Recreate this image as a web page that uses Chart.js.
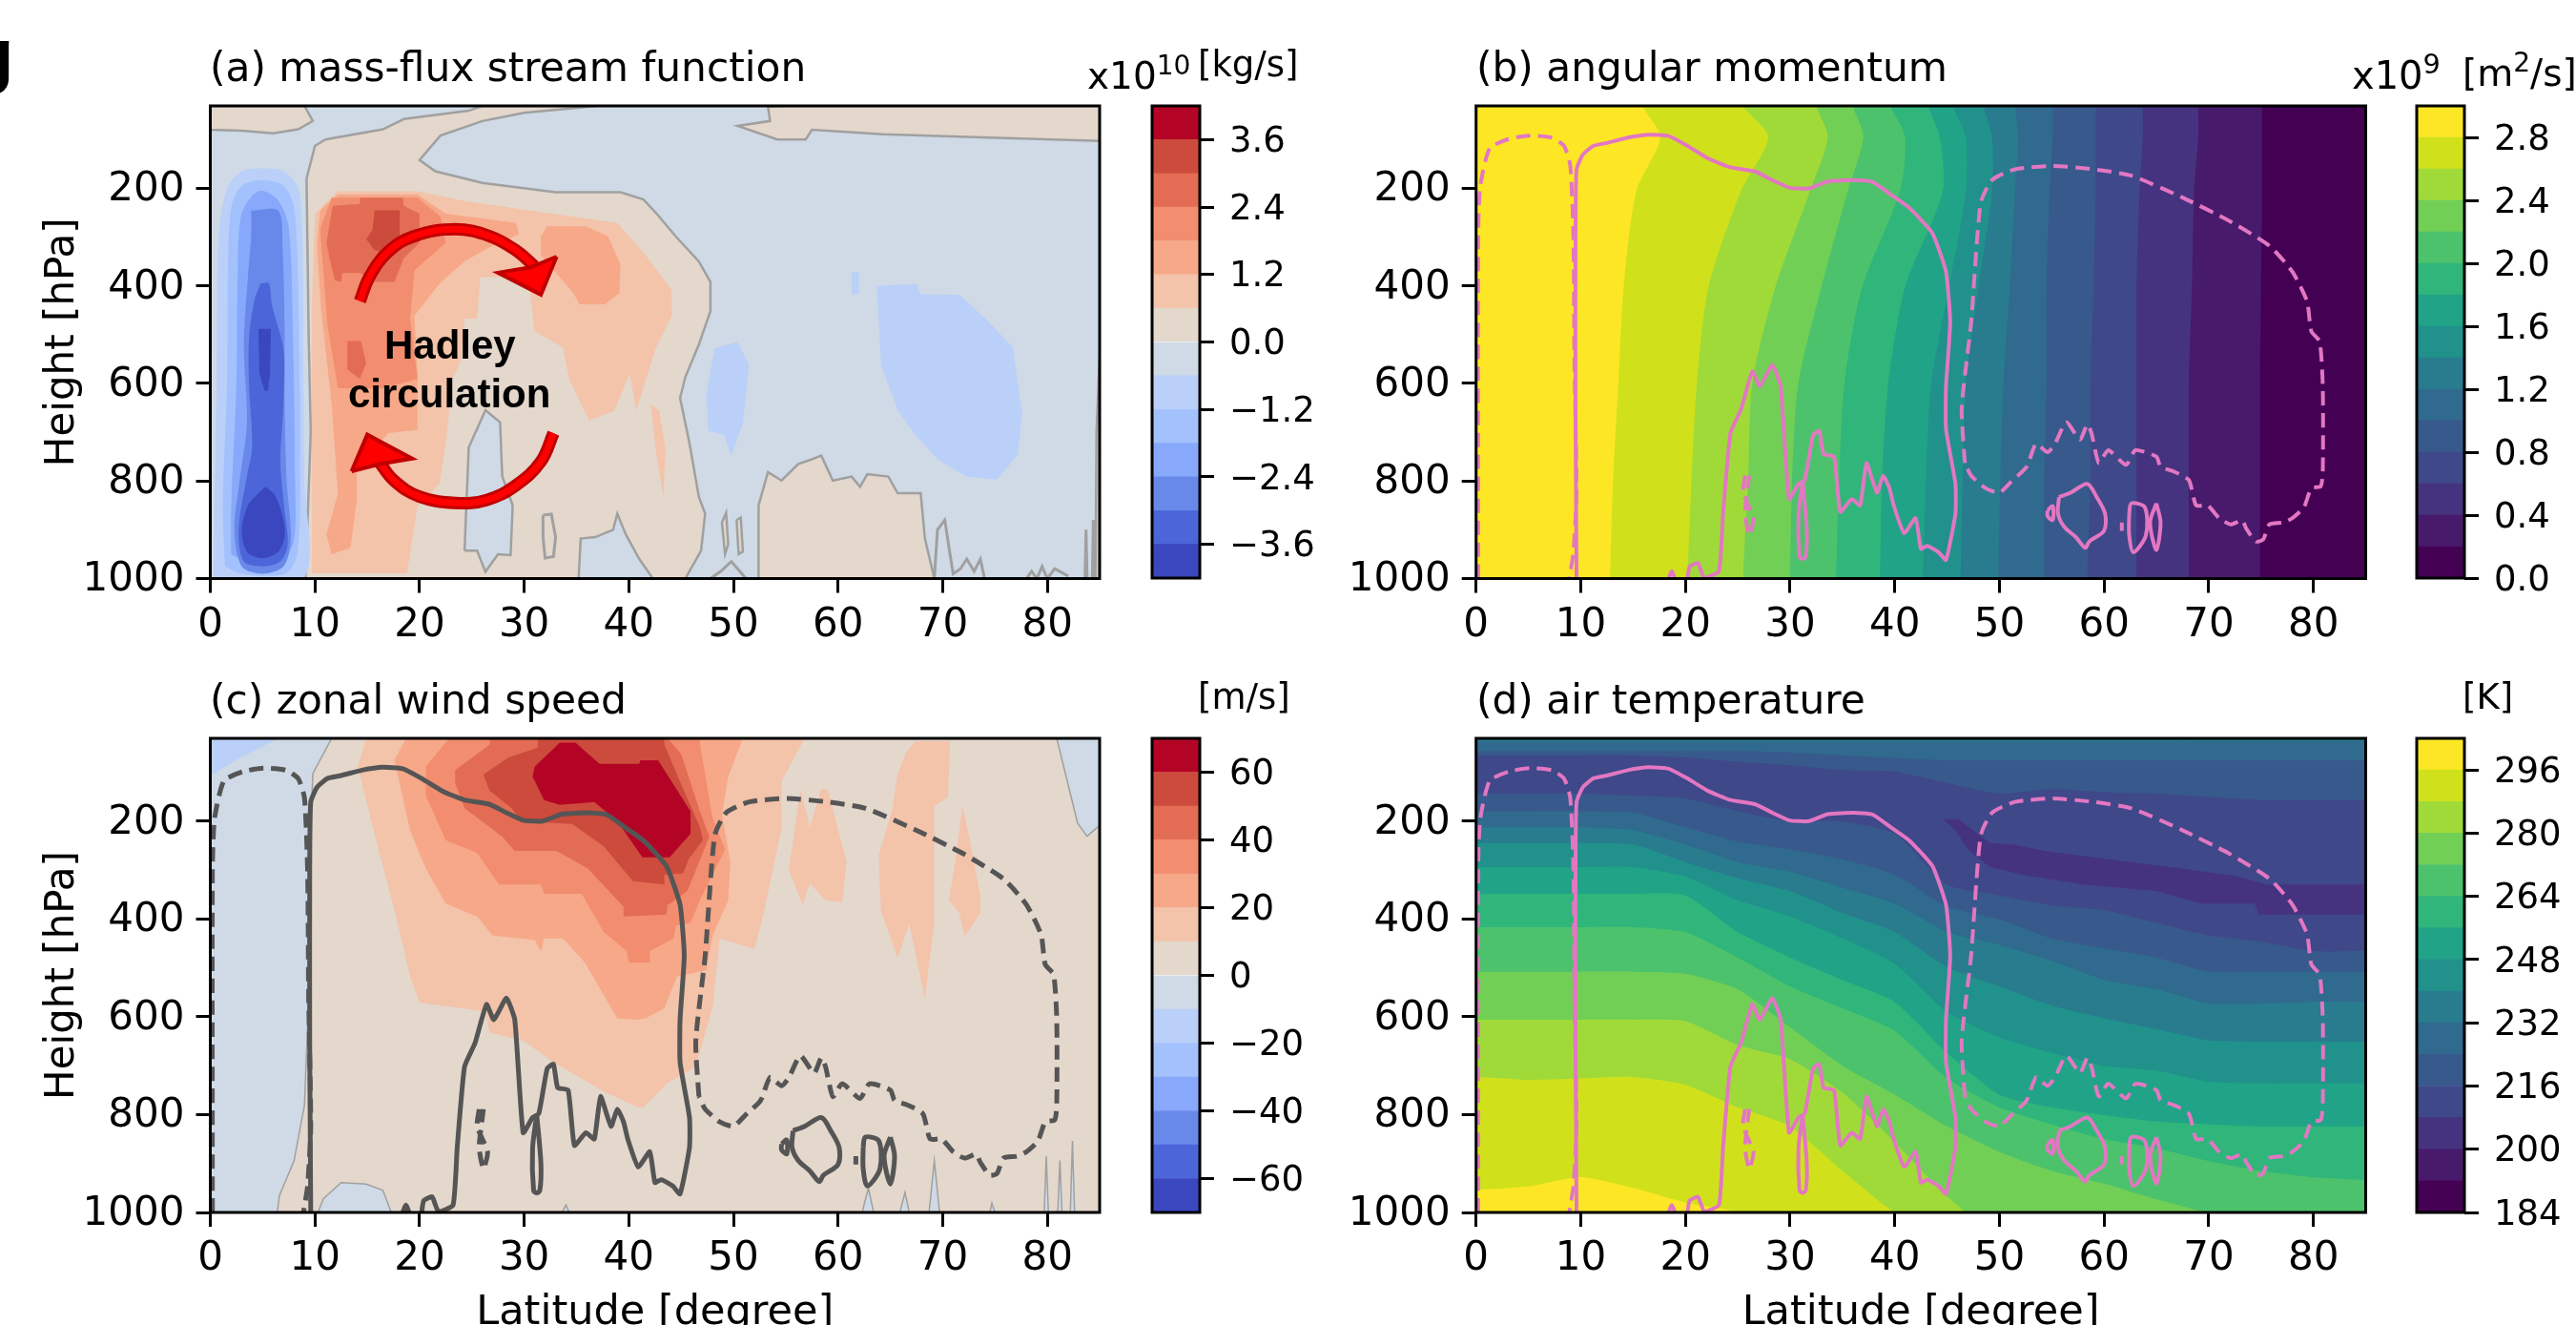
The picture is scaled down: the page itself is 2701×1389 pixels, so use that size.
<!DOCTYPE html>
<html>
<head>
<meta charset="utf-8">
<title>Hadley circulation</title>
<script src="https://cdn.jsdelivr.net/npm/chart.js@4/dist/chart.umd.min.js"></script>
<style>
    html, body { margin: 0; background: #fff; width: 2701px; height: 1389px; overflow: hidden; }
    canvas { position: absolute; }
    .lbl { position: absolute; font-family: "DejaVu Sans"; color: #000; line-height: 1; white-space: pre; z-index: 5; }
    .lbl sup { font-size: 0.72em; line-height: 0; vertical-align: 0.55em; }
    .bold { font-family: "Liberation Sans"; font-weight: bold; }
</style>
</head>
<body>
<script>
// axes
const latTicks = [0, 10, 20, 30, 40, 50, 60, 70, 80];
const hpaTicks = [200, 400, 600, 800, 1000];
const latMax = 85;
const hpaTop = 31;
const hpaBottom = 1000;

// colour levels, low to high
const coolwarm = ['#3b47bf', '#4c66d9', '#6889ea', '#88a8fb', '#a3c1fd', '#bad0f8', '#cfdae6',
                  '#e4d7cc', '#f3c3aa', '#f6a888', '#f28d6f', '#e36c55', '#cc4b3c', '#b40426'];
const viridis = ['#440154', '#481a6c', '#46337f', '#3f4889', '#38598c', '#306a8e', '#287c8e', '#21918c',
                 '#20a386', '#30b57b', '#4cc26c', '#72cf56', '#a0da39', '#d0e11c', '#fde725'];

// colorbar levels
const levelsA = [-4.2, -3.6, -3.0, -2.4, -1.8, -1.2, -0.6, 0, 0.6, 1.2, 1.8, 2.4, 3.0, 3.6, 4.2];
const levelsB = [0, 0.2, 0.4, 0.6, 0.8, 1.0, 1.2, 1.4, 1.6, 1.8, 2.0, 2.2, 2.4, 2.6, 2.8, 3.0];
const levelsC = [-70, -60, -50, -40, -30, -20, -10, 0, 10, 20, 30, 40, 50, 60, 70];
const levelsD = [184, 192, 200, 208, 216, 224, 232, 240, 248, 256, 264, 272, 280, 288, 296, 304];
const cbTicksA = [-3.6, -2.4, -1.2, 0, 1.2, 2.4, 3.6];
const cbTicksB = [0, 0.4, 0.8, 1.2, 1.6, 2.0, 2.4, 2.8];
const cbTicksC = [-60, -40, -20, 0, 20, 40, 60];
const cbTicksD = [184, 200, 216, 232, 248, 264, 280, 296];

// (a) mass-flux stream function, outlines as [latitude, hPa]
const aPosTopLeft = [[0,31],[9,31],[9.8,62],[8.4,79],[6,87],[3,82],[0,80]];
const aPosMain = [[9.1,1000],[9.6,700],[9.4,500],[9.2,180],[10,113],[11,100],[16.5,79],[18.5,58],[24.7,41],[26,31],[37,31],
    [30,45],[26,62],[22,92],[20,142],[21.5,165],[26,189],[33,208],[39.2,208],[41.4,223],[42.7,253],[44.5,299],[46.7,350],
    [47.8,392],[47.8,452],[46.7,520],[45.4,587],[44.9,630],[45.8,723],[46.7,833],[47.3,867],[46.9,943],[45.4,1000]];
const aPosBottom = [[52.4,1000],[52.4,850],[53.3,782],[54.6,799],[56.2,765],[57.3,757],[58.4,748],[59.5,799],[61.3,791],
    [62.1,812],[62.8,786],[64.8,791],[65.7,825],[67.9,825],[68.3,918],[69.2,1000]];
const aPosTopRight = [[55,31],[53.3,33],[53.5,62],[50.4,72],[54.2,100],[56.9,100],[57.5,80],[64.3,89],[74.5,96],[85,103],[85,31]];
const aPosEdge = [[84.6,1000],[84.7,700],[85,545],[85,1000]];
const aPosBlob1 = [[48.9,885],[49.3,865],[49.5,930],[49.2,950]];
const aPosBlob2 = [[50.3,880],[50.7,875],[50.9,945],[50.5,950]];
const aNegCentre = [[24.3,943],[24.7,731],[26.3,655],[27.7,680],[27.9,790],[28.9,850],[28.7,952],[27.5,950],[26.3,986],[25.5,943]];
const aNegBottom = [[35.2,1000],[35.4,918],[36.8,915],[38.5,900],[38.9,867],[39.7,909],[41,960],[42.3,1000]];
const aGrayBits = [
    [[31.8,870],[32.6,868],[33,915],[32.8,955],[32,958],[31.8,915],[31.8,870]],
    [[47.8,1000],[48.8,985],[49.8,965],[50.6,985],[51.2,1000]],
    [[69.2,1000],[69.5,900],[70.2,880],[70.7,950],[71,990],[71.7,980],[72.3,960],[73,985],[73.6,960],[74,1000]],
    [[78,1000],[78.5,985],[79,1000],[79.5,975],[80,1000],[80.7,980],[82,995]],
    [[83.6,1000],[83.7,900],[83.8,1000]],
    [[84.3,1000],[84.4,880],[84.5,1000]]
];
const aBand8 = [[9.7,989],[9.7,448],[10,252],[12.2,206],[19.8,206],[24.3,226],[30.4,245],[38.9,271],[41.6,337],[44.1,408],
    [44.1,461],[42.6,526],[40.7,656],[40.1,578],[38.6,656],[36.2,676],[34.3,591],[33.7,526],[31,493],[30.4,382],[25.8,382],
    [25.5,467],[24.3,467],[24,552],[23.1,591],[22.6,708],[21.9,806],[19.8,852],[18.8,989]];
const aBand8Spike = [[42.1,643],[42.9,656],[43.5,734],[43.3,832],[42.6,741]];
const aBand9 = [[10.2,317],[10.5,245],[12.2,213],[19.8,213],[22.5,252],[29.2,271],[29.5,294],[26.4,324],[24.3,350],[21.9,395],
    [19.5,461],[19.8,578],[19.8,695],[17,702],[14,773],[14,839],[13.4,937],[11.6,950],[11.1,910],[12.2,826],[11.6,643],[10.6,448]];
const aBand9Right = [[31.6,298],[32.2,278],[35.9,278],[38,298],[39.2,356],[39.1,415],[37.7,438],[35.3,438],[34.7,415],[33.4,382],[31.6,337]];
const aBand10 = [[10.5,284],[11.6,219],[19.8,219],[22,258],[22.5,311],[19.5,369],[19.1,467],[19.8,591],[16.4,610],[12.2,610],[11.2,480]];
const aBand11 = [[11.1,311],[11.7,236],[14.3,232],[14.3,219],[18.4,219],[18.5,236],[20,252],[20,311],[18.5,343],[17.6,392],
    [15.8,392],[14.3,373],[12.6,373],[12.5,392],[11.9,389],[11.4,343]];
const aBand11Low = [[13.1,513],[14.4,513],[14.9,558],[14.3,591],[13.1,571]];
const aBand12 = [[15.7,245],[18.1,245],[18.1,311],[16.4,330],[15.7,327],[14.9,304],[15.5,285]];
const aBand5 = [[0.3,1000],[0.6,600],[0.8,300],[1.6,200],[3,165],[5,159],[7,165],[8.4,200],[8.8,300],[8.9,600],[9,800],[8.9,1000]];
const aBand4 = [[1.4,975],[1.2,850],[1.6,600],[1.7,350],[2,240],[3,195],[5,183],[7,195],[8,240],[8.4,400],[8.6,800],[8.3,950],[7.2,990],[3,990]];
const aBand3 = [[2,950],[2,850],[2.5,600],[2.6,400],[2.9,260],[4,215],[5,205],[6.5,225],[7.5,280],[7.9,500],[8.1,800],[8,920],[6.8,965],[3.5,965]];
const aBand2 = [[3.9,246],[6.5,246],[6.9,320],[7.1,480],[7.1,640],[7.3,800],[7.7,920],[7,975],[5,990],[3,975],[2.3,900],[2.8,800],[3.5,680],[3.2,520],[3.6,380],[3.9,300]];
const aBand1 = [[4.8,395],[5.6,395],[5.9,440],[7,530],[7,640],[6.7,760],[7.1,860],[7.4,930],[6.7,965],[5,975],[3.2,965],[2.7,900],[3.5,790],[4,730],[3.7,600],[3.7,510],[4.2,430]];
const aBand0 = [[5.3,812],[6.2,830],[7,880],[7.1,915],[6.5,945],[5,958],[3.5,945],[3,900],[3.6,850],[4.6,825]];
const aBand0Mid = [[4.6,488],[5.8,488],[5.7,580],[5.5,615],[5.2,615],[4.7,580]];
const aLensRight = [[63.7,400],[67.5,396],[67.9,417],[71.6,418],[74.1,467],[76.7,526],[77.6,662],[77.2,746],[75.2,797],[72.3,791],
    [69.6,757],[67.4,706],[65.7,655],[64.1,562]];
const aLensSmall = [[61.3,372],[62,372],[62,417],[61.3,417]];
const aLensMid = [[48.2,528],[50.4,515],[51.5,562],[50.9,681],[49.8,748],[49.1,706],[47.6,697],[47.4,621]];
// Hadley cell arrows
const arrowTop = [[14.3,431],[15.2,382],[17,330],[19.5,298],[23.4,284],[26.7,298],[29.2,327],[31,360]];
const arrowTopHead = [[33.1,340],[31.6,418],[27.5,373],[30.6,362]];
const arrowLow = [[32.8,702],[31.6,760],[29.2,809],[26.4,839],[23.4,845],[20,832],[17.6,800],[16.1,760]];
const arrowLowHead = [[13.5,780],[15,705],[19.3,754],[16.3,765]];

// (b) angular momentum, latitude of each level line at bLevels hPa
const bLevels = [31, 95, 206, 402, 598, 793, 1000];
const bEdge28 = [15.9, 17.6, 15.3, 14.1, 13.6, 13.1, 12.8];
const bEdge26 = [25.5, 27.9, 25.3, 22.2, 21.1, 20.6, 20.2];
const bEdge24 = [32.5, 33.6, 31.9, 28.6, 26.4, 26, 25.5];
const bEdge22 = [36, 37, 35.5, 33, 30.8, 30.2, 30];
const bEdge20 = [39.6, 41, 40.5, 36.9, 35.2, 34.7, 34.4];
const bEdge18 = [43.2, 44.3, 44.6, 41, 39.4, 38.8, 38.6];
const bEdge16 = [45.6, 46.8, 46.8, 45.2, 43.5, 43, 42.7];
const bEdge14 = [48.5, 49.3, 49.3, 48, 46.8, 46.5, 46.3];
const bEdge12 = [51.5, 51.8, 51.5, 51, 50.4, 50.1, 49.9];
const bEdge10 = [55.1, 55.1, 54.8, 54.5, 54.5, 54.3, 54.3];
const bEdge08 = [59.2, 59.2, 59.2, 59, 58.7, 58.7, 58.4];
const bEdge06 = [63.7, 63.7, 63.4, 63.1, 63.1, 63.1, 63.1];
const bEdge04 = [69, 69, 68.6, 68.4, 68.1, 68.1, 68.1];
const bEdge02 = [75.1, 75.1, 75.1, 75, 74.9, 74.9, 74.9];

// (c) zonal wind speed
const cNegLeft = [[11.6,31],[9.8,103],[9.6,217],[9.4,565],[9,781],[8,895],[6.6,966],[6.4,1000],[0,1000],[0,31]];
const cNegCorner = [[0,31],[6.5,31],[2.5,75],[0,108]];
const cNegHump = [[10.3,1000],[10.8,972],[12.5,939],[14.9,942],[16.5,955],[17.3,1000]];
const cNegRight = [[80.9,31],[82.2,144],[82.9,205],[83.8,231],[85,209],[85,31]];
const cNegSpikes = [
    [[33.6,1000],[34,985],[34.3,1000]], [[62.3,1000],[62.9,950],[63.4,1000]], [[65.9,1000],[66.4,959],[66.8,1000]],
    [[68.7,1000],[69.2,894],[69.7,1000]], [[74.5,1000],[74.7,981],[75,1000]], [[79.7,1000],[79.9,885],[80.1,1000]],
    [[81,1000],[81.2,894],[81.4,1000]], [[82.2,1000],[82.4,854],[82.6,1000]]
];
const cBand8 = [[14.9,31],[14.1,89],[16,252],[17.6,382],[19.1,518],[20,571],[26.3,589],[26.7,632],[30,650],[32.8,693],[37.7,754],
    [40.9,785],[41.4,785],[43.6,737],[46.4,702],[48,580],[48.7,440],[52,462],[52.9,388],[54.6,214],[54.6,118],[56.8,31]];
const cBand8A = [[56.4,135],[57.3,214],[58.4,135],[59,135],[60.8,283],[60.4,366],[58.8,362],[57.3,327],[56.6,371],[55.3,300]];
const cBand8B = [[66.5,60],[67.4,37],[70.7,37],[70.5,152],[69.2,169],[69.2,405],[68.3,562],[66.8,410],[65.7,480],[64.1,384],[63.9,270],[65.2,174],[65.7,104]];
const cBand8C = [[71.9,169],[72.5,231],[73.6,353],[73.6,388],[72.1,436],[71.6,388],[70.6,362],[71.2,283]];
const cBand9 = [[18.7,31],[17.6,76],[19.1,219],[20.6,297],[22.5,369],[25.5,395],[27,434],[31,443],[31.6,466],[31.9,440],[33.7,440],
    [35.8,489],[38.9,603],[40.7,606],[41.6,603],[43.4,583],[44.6,518],[47.4,505],[48,434],[49.5,362],[49.7,284],[48.9,187],[49.5,109],[50.9,31]];
const cBand10 = [[20.6,89],[20.6,148],[22.5,239],[25.5,265],[27.6,330],[31.6,330],[31.9,349],[35.5,349],[37.6,427],[39.8,466],[40,489],
    [42,489],[42,466],[44.3,440],[44.5,414],[45.9,408],[46.8,362],[49.2,258],[48,193],[46.8,44],[46.8,31],[22.8,31]];
const cBand11 = [[23.4,96],[23.4,122],[24.3,174],[27.9,232],[29.1,261],[33.1,261],[36.1,297],[39.5,375],[39.5,395],[43.6,391],[43.7,372],
    [45.6,343],[47.7,232],[46.8,180],[45,63],[43.7,31],[26.7,31],[26.7,44]];
const cBand12 = [[26.1,105],[26.7,138],[28.8,174],[29.7,200],[34.6,206],[37.6,252],[40.4,323],[43.4,330],[43.4,310],[45.2,307],[45.7,278],
    [47.1,239],[46.8,213],[45.2,135],[43.4,44],[43.4,31],[31.3,31],[31.3,50],[28.5,70]];
const cBand13 = [[30.8,109],[31.9,157],[33.4,167],[36.7,161],[38.9,200],[41.3,274],[43.9,274],[45.9,226],[45.9,180],[42.8,76],[41.1,76],
    [41,83],[37.2,83],[34.9,40],[33.4,40],[31,89]];

// (d) air temperature, hPa of each level line at dLats
const dLats = [0, 5, 10, 15, 20, 25, 30, 35, 40, 45, 50, 55, 60, 65, 70, 75, 80, 85];
const dLine6to5 = [38, 38, 38, 38, 38, 38, 38, 38, 38, 38, 38, 38, 38, 38, 37, 37, 37, 37];
const dLine5to4 = [57, 57, 57, 57, 57, 57, 60, 66, 71, 76, 76, 76, 76, 76, 76, 76, 76, 76];
const dLine4to3 = [66, 66, 66, 66, 70, 79, 86, 96, 99, 122, 144, 135, 141, 144, 151, 157, 157, 157];
const dLine3to4 = [144, 144, 144, 148, 154, 180, 200, 201, 226, 330, 352, 372, 382, 408, 434, 447, 466, 466];
const dLine4to5 = [180, 180, 180, 183, 213, 242, 258, 278, 310, 375, 401, 440, 460, 479, 508, 508, 508, 508];
const dLine5to6 = [213, 213, 213, 219, 248, 284, 304, 336, 369, 427, 453, 486, 525, 544, 573, 573, 570, 570];
const dLine6to7 = [245, 245, 245, 248, 284, 317, 343, 388, 427, 499, 538, 577, 603, 625, 648, 651, 651, 651];
const dLine7to8 = [294, 294, 294, 294, 313, 362, 395, 440, 492, 590, 642, 674, 700, 710, 733, 736, 736, 736];
const dLine8to9 = [349, 349, 349, 349, 352, 427, 479, 525, 570, 674, 759, 785, 801, 814, 820, 824, 824, 824];
const dLine9to10 = [417, 417, 417, 417, 427, 479, 538, 583, 629, 726, 785, 820, 850, 869, 895, 915, 928, 934];
const dLine10to11 = [508, 508, 508, 508, 512, 544, 622, 700, 759, 824, 876, 915, 941, 973, 1002, 1040, 1040, 1040];
const dLine11to12 = [606, 606, 606, 606, 609, 658, 687, 755, 856, 967, 1050, 1050, 1050, 1050, 1050, 1050, 1050, 1050];
const dLine12to13 = [723, 729, 726, 723, 739, 785, 824, 915, 1000, 1050, 1050, 1050, 1050, 1050, 1050, 1050, 1050, 1050];
const dLine13to14 = [954, 947, 928, 950, 980, 1000, 1050, 1050, 1050, 1050, 1050, 1050, 1050, 1050, 1050, 1050, 1050, 1050];
const dColdBand = [[44.6,196],[46.1,196],[49.1,245],[51.3,248],[54.3,261],[60.4,278],[67.4,297],[72.8,313],[75.6,330],[85,330],[85,391],
    [74.8,391],[74.4,369],[69.2,369],[65,343],[58,330],[52.2,310],[49.1,294],[47,258],[45.8,219]];

// zero lines of the stream function, drawn over (b), (c), (d)
const solidMain = [[9.6,1000],[9.5,650],[9.5,300],[9.6,161],[10.2,131],[11.2,113],[12.5,107],[14.5,96],[16.5,90],[18.4,93],[20.2,113],
    [22.2,139],[24.3,157],[26.7,166],[28.3,183],[30,199],[31.8,200],[33.6,186],[36.1,183],[37.9,187],[39.7,214],[41.4,240],[43.6,292],
    [44.9,371],[45.3,475],[44.9,606],[44.9,693],[45.8,806],[45.8,867],[44.9,962],[44.2,946],[43.1,933],[42.5,939],[42,876],[40.9,907],
    [39.9,850],[39.5,815],[38.9,789],[38.3,824],[37.3,763],[36.7,850],[35.9,837],[34.8,863],[34.2,750],[33.2,745],[32.8,697],[32.2,706],
    [31.4,798],[30.8,806],[29.9,837],[29.1,606],[28.3,562],[27.1,606],[26.4,575],[25.3,654],[24.3,702],[23.6,867],[23.2,985],[21.8,998],
    [21.2,968],[20.4,976],[20.2,1000]];
const solidBits = [
    [[18.4,1000],[18.7,985],[19,1000]],
    [[31.2,800],[31.6,900],[31.5,955],[31.2,960],[30.9,955],[30.8,870],[31.2,800]],
    [[55.7,833],[56.8,824],[58.4,806],[59.3,833],[60.1,867],[60,902],[58.6,924],[58.2,937],[57.3,915],[56.2,894],[55.6,867],[55.7,833]],
    [[54.6,860],[55.1,852],[55.1,880],[54.6,872],[54.6,860]],
    [[62.4,867],[62.6,846],[63.9,854],[64,911],[62.8,946],[62.4,911],[62.4,867]],
    [[65,846],[65.4,885],[65,942],[64.4,885],[65,846]],
    [[61.7,885],[61.7,902]]
];
const dashedDome = [[0.2,1000],[0.2,301],[0.4,196],[1.3,118],[3.1,99],[5.1,92],[7.2,96],[8.4,113],[9,153],[9.3,301],[9.4,562],[9.6,824],[9.3,946],[8.9,1000]];
const dashedSmall = [[25.7,789],[25.5,824],[26.5,876],[26.1,911],[25.7,867],[26.1,789]];
const dashedLarge = [[46.7,763],[46.4,650],[47.3,475],[48.2,231],[49.3,183],[51.5,161],[55.1,154],[59,161],[62.6,174],[67.4,218],[71.9,266],
    [75.8,318],[78,371],[79.4,432],[79.8,493],[80.6,514],[80.9,606],[80.9,780],[80.7,811],[79.8,815],[79.1,854],[78,876],[77.1,885],[75.8,889],
    [75.2,920],[74.5,924],[73.6,898],[73.2,881],[72.1,889],[71,876],[69.9,850],[68.8,850],[68.1,798],[66.6,780],[65.4,771],[65,750],[63,737],
    [62.1,767],[60.4,737],[59.5,763],[58.8,702],[58.4,684],[57.7,715],[56.4,680],[55.3,724],[54.6,741],[53.5,724],[52.6,771],[51.1,802],
    [50,824],[48.7,815],[47.3,789],[46.7,763]];

// helpers for datasets
function shape(points, color, outline, outlineWidth, tension) {
    return {
        data: points.concat([points[0]]).map(p => ({ x: p[0], y: p[1] })),
        showLine: true, fill: 'shape', backgroundColor: color,
        borderColor: outline || 'transparent', borderWidth: outline ? (outlineWidth || 2) : 0,
        pointRadius: 0, tension: tension || 0
    };
}
function stroke(points, color, width, dash, tension) {
    return {
        data: points.map(p => ({ x: p[0], y: p[1] })),
        showLine: true, fill: false, borderColor: color, borderWidth: width,
        borderDash: dash || [], pointRadius: 0, tension: tension || 0
    };
}
function background(color) {
    return shape([[0, hpaTop], [latMax, hpaTop], [latMax, hpaBottom], [0, hpaBottom]], color);
}
function zeroLines(color, width) {
    const out = [stroke(solidMain, color, width, [], 0.15)];
    solidBits.forEach(b => out.push(stroke(b, color, width, [], 0.3)));
    [dashedDome, dashedSmall, dashedLarge].forEach(d => out.push(stroke(d, color, width, [15, 8], 0.2)));
    return out;
}
// level line of (b): everything east of it gets the next colour
function edgeB(lats, color) {
    const line = [[lats[0], 0]].concat(lats.map((lat, i) => [lat, bLevels[i]]), [[lats[lats.length - 1], 1040]]);
    return shape(line.concat([[95, 1040], [95, 0]]), color, null, 0, 0.25);
}
// level line of (d): everything below it gets the next colour
function lineD(values, color) {
    const line = [[-5, values[0]]].concat(values.map((hpa, i) => [dLats[i], hpa]), [[90, values[values.length - 1]]]);
    return shape(line.concat([[90, 1080], [-5, 1080]]), color, null, 0, 0.2);
}

const gray = '#a0a0a0';
const aSets = [background(coolwarm[6])];
[aPosTopLeft, aPosMain, aPosBottom, aPosTopRight, aPosEdge, aPosBlob1, aPosBlob2].forEach(p => aSets.push(shape(p, coolwarm[7], gray, 2.5)));
[aNegCentre, aNegBottom].forEach(p => aSets.push(shape(p, coolwarm[6], gray, 2.5)));
aGrayBits.forEach(p => aSets.push(stroke(p, gray, 3)));
[aBand8, aBand8Spike].forEach(p => aSets.push(shape(p, coolwarm[8])));
[aBand9, aBand9Right].forEach(p => aSets.push(shape(p, coolwarm[9])));
aSets.push(shape(aBand10, coolwarm[10]));
[aBand11, aBand11Low].forEach(p => aSets.push(shape(p, coolwarm[11])));
aSets.push(shape(aBand12, coolwarm[12]));
[aLensRight, aLensSmall, aLensMid].forEach(p => aSets.push(shape(p, coolwarm[5])));
aSets.push(shape(aBand5, coolwarm[5], null, 0, 0.3), shape(aBand4, coolwarm[4], null, 0, 0.3), shape(aBand3, coolwarm[3], null, 0, 0.3));
aSets.push(shape(aBand2, coolwarm[2], null, 0, 0.3), shape(aBand1, coolwarm[1], null, 0, 0.3));
aSets.push(shape(aBand0, coolwarm[0], null, 0, 0.3), shape(aBand0Mid, coolwarm[0]));
[[arrowTop, arrowTopHead], [arrowLow, arrowLowHead]].forEach(a => {
    aSets.push(stroke(a[0], '#c00000', 13, [], 0.4), stroke(a[0], '#ff0000', 7, [], 0.4), shape(a[1], '#ff0000', '#c00000', 4));
});

const bSets = [background(viridis[14])];
[bEdge28, bEdge26, bEdge24, bEdge22, bEdge20, bEdge18, bEdge16, bEdge14, bEdge12, bEdge10, bEdge08, bEdge06, bEdge04, bEdge02]
    .forEach((e, i) => bSets.push(edgeB(e, viridis[13 - i])));
bSets.push(...zeroLines('#e377c2', 4));

const cSets = [background(coolwarm[7])];
[cNegLeft, cNegHump, cNegRight].forEach(p => cSets.push(shape(p, coolwarm[6], gray, 1.5)));
cNegSpikes.forEach(p => cSets.push(shape(p, coolwarm[6], gray, 1.5)));
cSets.push(shape(cNegCorner, coolwarm[5]));
[cBand8, cBand8A, cBand8B, cBand8C].forEach(p => cSets.push(shape(p, coolwarm[8])));
cSets.push(shape(cBand9, coolwarm[9]), shape(cBand10, coolwarm[10]), shape(cBand11, coolwarm[11]), shape(cBand12, coolwarm[12]), shape(cBand13, coolwarm[13]));
cSets.push(...zeroLines('#555555', 5));

const dSets = [background(viridis[6])];
dSets.push(lineD(dLine6to5, viridis[5]), lineD(dLine5to4, viridis[4]), lineD(dLine4to3, viridis[3]));
dSets.push(lineD(dLine3to4, viridis[4]), lineD(dLine4to5, viridis[5]), lineD(dLine5to6, viridis[6]), lineD(dLine6to7, viridis[7]));
dSets.push(lineD(dLine7to8, viridis[8]), lineD(dLine8to9, viridis[9]), lineD(dLine9to10, viridis[10]), lineD(dLine10to11, viridis[11]));
dSets.push(lineD(dLine11to12, viridis[12]), lineD(dLine12to13, viridis[13]), lineD(dLine13to14, viridis[14]));
dSets.push(shape(dColdBand, viridis[2]));
dSets.push(...zeroLines('#e377c2', 4));

Chart.defaults.font.family = 'DejaVu Sans';
Chart.defaults.color = '#000';
Chart.defaults.animation = false;

// black frame round the plot area
const framePlugin = {
    id: 'frame',
    afterDatasetsDraw(chart) {
        const a = chart.chartArea, ctx = chart.ctx;
        ctx.save();
        ctx.strokeStyle = '#000';
        ctx.lineWidth = 3;
        ctx.strokeRect(a.left, a.top, a.right - a.left, a.bottom - a.top);
        ctx.restore();
    }
};

const tickGrid = { display: true, drawOnChartArea: false, drawTicks: true, tickLength: 15, tickWidth: 3, tickColor: '#000' };

function addCanvas(left, top, width, height) {
    const c = document.createElement('canvas');
    c.width = width; c.height = height;
    c.style.left = left + 'px'; c.style.top = top + 'px';
    c.style.width = width + 'px'; c.style.height = height + 'px';
    document.body.appendChild(c);
    return c;
}

function panel(datasets, box, yTitle, xTitle) {
    const padTop = 50;
    const canvasLeft = yTitle ? 0 : 1395;
    const canvasTop = box.top - padTop;
    const canvasBottom = xTitle ? 1410 : box.bottom + 80;
    const c = addCanvas(canvasLeft, canvasTop, Math.ceil(box.right) + 10 - canvasLeft, Math.ceil(canvasBottom - canvasTop));
    datasets.forEach((d, i) => { d.order = datasets.length - i; });
    new Chart(c, {
        type: 'scatter',
        data: { datasets: datasets },
        options: {
            responsive: false,
            events: [],
            layout: { padding: { left: 0, top: padTop, right: c.width - (box.right - canvasLeft), bottom: 0 } },
            plugins: { legend: { display: false }, tooltip: { enabled: false }, title: { display: false } },
            scales: {
                x: {
                    type: 'linear', min: 0, max: latMax,
                    afterBuildTicks: s => { s.ticks = latTicks.map(v => ({ value: v })); },
                    afterFit: s => { s.height = c.height - padTop - (box.bottom - box.top); },
                    grid: tickGrid, border: { display: false },
                    ticks: { font: { size: 42 }, padding: 9, maxRotation: 0, autoSkip: false, callback: v => String(v) },
                    title: { display: !!xTitle, text: xTitle || '', font: { size: 43 }, padding: { top: 0, bottom: 8 }, align: 'center' }
                },
                y: {
                    type: 'linear', reverse: true, min: hpaTop, max: hpaBottom,
                    afterBuildTicks: s => { s.ticks = hpaTicks.map(v => ({ value: v })); },
                    afterFit: s => { s.width = box.left - canvasLeft; },
                    grid: tickGrid, border: { display: false },
                    ticks: { font: { size: 42 }, padding: 12, labelOffset: 2, autoSkip: false, callback: v => String(v) },
                    title: { display: !!yTitle, text: yTitle || '', font: { size: 42 }, padding: { top: 41, bottom: 0 } }
                }
            }
        },
        plugins: [framePlugin]
    });
}

function colorbar(levels, colors, ticks, fmt, box) {
    const padV = 50;
    const c = addCanvas(box.left - 5, box.top - padV, 190, box.bottom - box.top + 2 * padV);
    const sets = colors.map((col, i) => ({
        data: [[levels[i], levels[i + 1]]], backgroundColor: col, borderWidth: 0,
        barPercentage: 1, categoryPercentage: 1, grouped: false
    }));
    new Chart(c, {
        type: 'bar',
        data: { labels: ['level'], datasets: sets },
        options: {
            responsive: false,
            events: [],
            layout: { padding: { left: 5, top: padV, right: 0, bottom: padV } },
            plugins: { legend: { display: false }, tooltip: { enabled: false } },
            scales: {
                x: { display: false },
                y: {
                    position: 'right', min: levels[0], max: levels[levels.length - 1],
                    afterBuildTicks: s => { s.ticks = ticks.map(v => ({ value: v })); },
                    afterFit: s => { s.width = c.width - 5 - (box.right - box.left); },
                    grid: tickGrid, border: { display: false },
                    ticks: { font: { size: 37 }, padding: 16, labelOffset: 3, autoSkip: false, callback: fmt }
                }
            }
        },
        plugins: [framePlugin]
    });
}

function label(html, x, baseline, size, extra) {
    const d = document.createElement('div');
    d.className = 'lbl' + (extra ? ' ' + extra : '');
    d.innerHTML = html;
    d.style.left = x + 'px';
    d.style.top = (baseline - size * 0.846) + 'px';
    d.style.fontSize = size + 'px';
    document.body.appendChild(d);
    return d;
}

const minus = s => String(s).replace('-', '\u2212');

panel(aSets, { left: 220.5, right: 1153, top: 110.5, bottom: 606 }, 'Height [hPa]', null);
panel(bSets, { left: 1547.7, right: 2480.5, top: 110.5, bottom: 606 }, null, null);
panel(cSets, { left: 220.5, right: 1153, top: 773.5, bottom: 1270.5 }, 'Height [hPa]', 'Latitude [degree]');
panel(dSets, { left: 1547.7, right: 2480.5, top: 773.5, bottom: 1270.5 }, null, 'Latitude [degree]');

colorbar(levelsA, coolwarm, cbTicksA, v => minus(v.toFixed(1)), { left: 1208, right: 1258, top: 110.5, bottom: 606 });
colorbar(levelsB, viridis, cbTicksB, v => v.toFixed(1), { left: 2534, right: 2584, top: 110.5, bottom: 606 });
colorbar(levelsC, coolwarm, cbTicksC, v => minus(v), { left: 1208, right: 1258, top: 773.5, bottom: 1270.5 });
colorbar(levelsD, viridis, cbTicksD, v => String(v), { left: 2534, right: 2584, top: 773.5, bottom: 1270.5 });

label('(a) mass-flux stream function', 220, 85.5, 42.3);
label('(b) angular momentum', 1548, 85.5, 42.3);
label('(c) zonal wind speed', 220, 749, 42.3);
label('(d) air temperature', 1548, 749, 42.3);
label('x10<sup>10</sup>', 1140, 93, 39);
label('[kg/s]', 1256, 80, 37);
label('x10<sup>9</sup>', 2466, 93, 40);
label('[m<sup>2</sup>/s]', 2582, 90, 39);
label('[m/s]', 1256, 743, 37);
label('[K]', 2582, 743, 37);
label('Hadley', 403, 377, 42, 'bold');
label('circulation', 365, 428, 42, 'bold');
label('g', -32, 83, 76, 'bold');
</script>
</body>
</html>
